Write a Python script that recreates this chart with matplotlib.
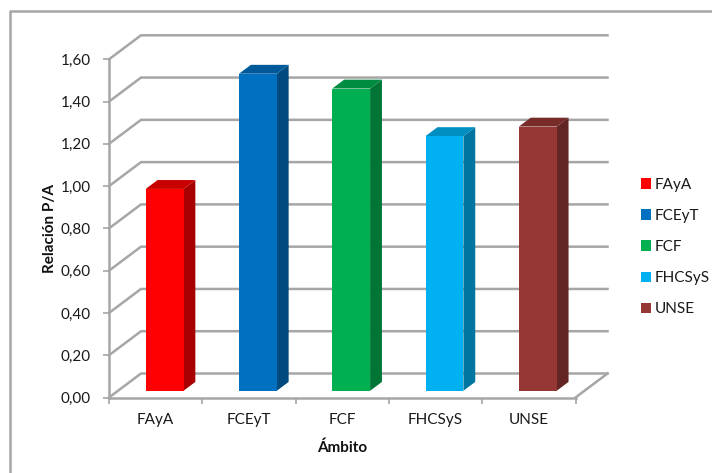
import matplotlib
matplotlib.use("Agg")
import matplotlib.pyplot as plt
from matplotlib.patches import Polygon, Rectangle
from matplotlib.transforms import Affine2D
from matplotlib.lines import Line2D

plt.rcParams['font.family'] = ['Lato', 'DejaVu Sans']

categories = ["FAyA", "FCEyT", "FCF", "FHCSyS", "UNSE"]
values = [0.955, 1.50, 1.43, 1.205, 1.25]
front_colors = ["#FF0000", "#0070C0", "#00B050", "#00B0F0", "#953735"]
side_colors = ["#A80000", "#004A80", "#007535", "#0075A0", "#632523"]
top_colors = ["#C80000", "#005A9A", "#008C40", "#008DC0", "#772C2A"]
y_ticks = [0.0, 0.2, 0.4, 0.6, 0.8, 1.0, 1.2, 1.4, 1.6]
y_labels = ["0,00", "0,20", "0,40", "0,60", "0,80", "1,00", "1,20", "1,40", "1,60"]

W, H = 712, 473
fig = plt.figure(figsize=(W / 100, H / 100), dpi=100, facecolor="white")

L, R, T, B = 109, 575.5, 59.3, 397.5
ax = fig.add_axes([L / W, 1 - B / H, (R - L) / W, (B - T) / H])
ax.set_xlim(0, len(categories))
ax.set_ylim(0, 1.6)
ax.patch.set_visible(False)

DX, DY = 32, 24


def depth(d):
    return ax.transData + Affine2D().translate(DX * d, DY * d)


GRID = "#A6A6A6"
for v in y_ticks:
    t = ax.transData
    back = depth(1)
    # diagonal side-wall line and back-wall line
    p0 = t.transform((0, v))
    p1 = back.transform((0, v))
    p2 = back.transform((len(categories), v))
    fig.add_artist(Line2D([p0[0] / W, p1[0] / W, p2[0] / W],
                          [p0[1] / H, p1[1] / H, p2[1] / H],
                          color=GRID, lw=1.8, zorder=1,
                          solid_joinstyle="miter"))
# floor right edge
p0 = ax.transData.transform((len(categories), 0))
p1 = depth(1).transform((len(categories), 0))
fig.add_artist(Line2D([p0[0] / W, p1[0] / W], [p0[1] / H, p1[1] / H],
                      color=GRID, lw=1.8, zorder=1))

bar_w = 0.405
d0, d1 = 0.28, 0.65
ax.set_zorder(3)
for i, (v, fc, sc, tc) in enumerate(zip(values, front_colors, side_colors, top_colors)):
    x0, x1 = i + 0.5 - bar_w / 2, i + 0.5 + bar_w / 2
    f, b = depth(d0), depth(d1)
    to_fig = fig.transFigure.inverted()

    def P(tr, x, y):
        return to_fig.transform(tr.transform((x, y)))

    side = [P(f, x1, 0), P(b, x1, 0), P(b, x1, v), P(f, x1, v)]
    top = [P(f, x0, v), P(f, x1, v), P(b, x1, v), P(b, x0, v)]
    front = [P(f, x0, 0), P(f, x1, 0), P(f, x1, v), P(f, x0, v)]
    for pts, c in ((side, sc), (top, tc), (front, fc)):
        fig.add_artist(Polygon(pts, closed=True, facecolor=c, edgecolor="none",
                               transform=fig.transFigure, zorder=2))

ax.set_xticks([i + 0.5 for i in range(len(categories))])
ax.set_xticklabels(categories)
ax.set_yticks(y_ticks)
ax.set_yticklabels(y_labels)
ax.tick_params(axis="y", length=4, width=1.2, color=GRID, labelsize=11,
               labelcolor="#1a1a1a", pad=9)
ax.tick_params(axis="x", length=0, labelsize=11, labelcolor="#1a1a1a", pad=11)
ax.set_xticks(range(len(categories) + 1), minor=True)
ax.tick_params(axis="x", which="minor", length=4, width=1.2, color=GRID)
for s in ("top", "right"):
    ax.spines[s].set_visible(False)
for s in ("left", "bottom"):
    ax.spines[s].set_color(GRID)
    ax.spines[s].set_linewidth(1.8)

ax.set_xlabel("Ámbito", fontsize=11, fontweight="bold", labelpad=10, color="#111111")
ax.set_ylabel("Relación P/A", fontsize=11, fontweight="bold", labelpad=3, color="#111111")

# legend
handles = [Rectangle((0, 0), 1, 1, facecolor=c, edgecolor="none") for c in front_colors]
leg = fig.legend(handles, categories, loc="center left",
                 bbox_to_anchor=(641 / W, 1 - 247 / H), frameon=False,
                 fontsize=11, handlelength=0.66, handleheight=0.66,
                 handletextpad=0.25, labelspacing=1.12, borderpad=0, borderaxespad=0,
                 labelcolor="#1a1a1a")

# chart-area frame: only left and top edges are inside the picture
fig.add_artist(Line2D([9.5 / W, 9.5 / W, 1], [0, 1 - 11.5 / H, 1 - 11.5 / H],
                      color="#A6A6A6", lw=1.8))

fig.savefig("out.png", dpi=100)
